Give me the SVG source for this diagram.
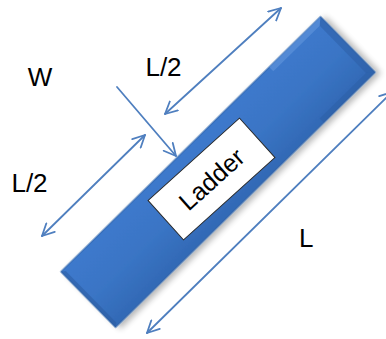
<svg xmlns="http://www.w3.org/2000/svg" width="386" height="339" viewBox="0 0 386 339">
  <style>
    .lbl { font-family: "Liberation Sans", Arial, sans-serif; font-size: 26px; fill: #000000; }
    .conn { stroke: #4f7fbf; stroke-width: 1.8; fill: none; stroke-linecap: round; }
  </style>
  <defs>
    <marker id="ah" viewBox="0 0 14 14" refX="13" refY="7" markerWidth="14" markerHeight="14" markerUnits="userSpaceOnUse" orient="auto-start-reverse">
      <path d="M1,1 L13,7 L1,13" fill="none" stroke="#4f7fbf" stroke-width="1.8" stroke-linecap="round" stroke-linejoin="round"/>
    </marker>
    <linearGradient id="body" x1="0" y1="-39" x2="0" y2="39" gradientUnits="userSpaceOnUse">
      <stop offset="0" stop-color="#3d79cc"/>
      <stop offset="0.5" stop-color="#3a75c5"/>
      <stop offset="1" stop-color="#3269b5"/>
    </linearGradient>
    <filter id="sh" x="-20%" y="-20%" width="140%" height="140%">
      <feGaussianBlur in="SourceAlpha" stdDeviation="3"/>
      <feOffset dx="3" dy="4" result="b"/>
      <feComponentTransfer><feFuncA type="linear" slope="0.3"/></feComponentTransfer>
      <feMerge><feMergeNode/><feMergeNode in="SourceGraphic"/></feMerge>
    </filter>
  </defs>

  <g id="ladder" transform="translate(218,172) rotate(-44.5)">
    <rect x="-182" y="-39" width="364" height="78" fill="url(#body)" stroke="#2f62a8" stroke-width="1" filter="url(#sh)"/>
    <polygon points="182,-39 182,39 175,33 175,-33" fill="#2d5fa6" opacity="0.55"/>
    <polygon points="182,-39 175,-33 110,-33 110,-39" fill="#6a9be0" opacity="0.5"/>
    <polygon points="182,39 175,33 110,33 110,39" fill="#2a5a9e" opacity="0.35"/>
    <polygon points="-182,-39 -182,39 -178,36 -178,-36" fill="#2a5a9e" opacity="0.5"/>
  </g>

  <g id="label-box" transform="translate(211.5,179) rotate(-42)">
    <rect x="-61.5" y="-26.5" width="123" height="53" fill="#ffffff" stroke="#2a2a2a" stroke-width="1"/>
    <text x="0" y="9" text-anchor="middle" style="font-family: 'Liberation Sans', Arial, sans-serif; font-size: 25px; fill: #000;">Ladder</text>
  </g>

  <g id="connectors">
    <line class="conn" x1="165" y1="114" x2="281" y2="8" marker-start="url(#ah)" marker-end="url(#ah)"/>
    <line class="conn" x1="145" y1="135" x2="42" y2="236" marker-start="url(#ah)" marker-end="url(#ah)"/>
    <line class="conn" x1="117" y1="87" x2="176" y2="156" marker-end="url(#ah)"/>
    <line class="conn" x1="147" y1="333" x2="392" y2="92" marker-start="url(#ah)" marker-end="url(#ah)"/>
  </g>

  <g id="label-W"><text class="lbl" x="40" y="86" text-anchor="middle">W</text></g>
  <g id="label-L2-top"><text class="lbl" x="163.5" y="76" text-anchor="middle">L/2</text></g>
  <g id="label-L2-left"><text class="lbl" x="29.5" y="192" text-anchor="middle">L/2</text></g>
  <g id="label-L"><text class="lbl" x="299" y="247">L</text></g>
</svg>
